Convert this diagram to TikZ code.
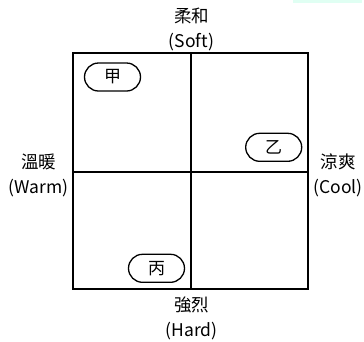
\documentclass[tikz,border=0pt]{standalone}
\usepackage{fontspec}
\setmainfont{Noto Sans CJK TC}
\usetikzlibrary{shapes.misc}
\tikzset{
	pill/.style={draw, line width=1.3pt, rounded rectangle, minimum width=56pt, minimum height=28pt, inner sep=0pt, font=\fontsize{17}{19}\selectfont},
	axislabel/.style={align=center, inner sep=0pt, font=\fontsize{17.5}{25}\selectfont}
}
\begin{document}
\begin{tikzpicture}[x=1pt, y=-1pt]
			%%%%% START %%%%%
			\useasboundingbox (0, 0) rectangle (364, 341);
			\fill[green!40!cyan!12] (293, 0) rectangle (362, 2.5);
			
			\draw[line width=2pt] (72.7, 53) rectangle (308.3, 289.3);
			\draw[line width=2pt] (190.7, 53) -- (190.7, 289.3);
			\draw[line width=2pt] (72.7, 171.7) -- (308.3, 171.7);
			
			\node[pill] (jia) at (112.5, 77) {甲};
			\node[pill] (yi) at (273.7, 147.3) {乙};
			\node[pill] (bing) at (156.5, 268.3) {丙};
			
			\node[axislabel] (soft) at (191.5, 29) {柔和\\(Soft)};
			\node[axislabel] (hard) at (191.5, 318.5) {強烈\\(Hard)};
			\node[axislabel] (warm) at (38.5, 175.8) {溫暖\\(Warm)};
			\node[axislabel] (cool) at (338, 175.8) {涼爽\\(Cool)};
			%%%%% END %%%%%
		\end{tikzpicture}
\end{document}
